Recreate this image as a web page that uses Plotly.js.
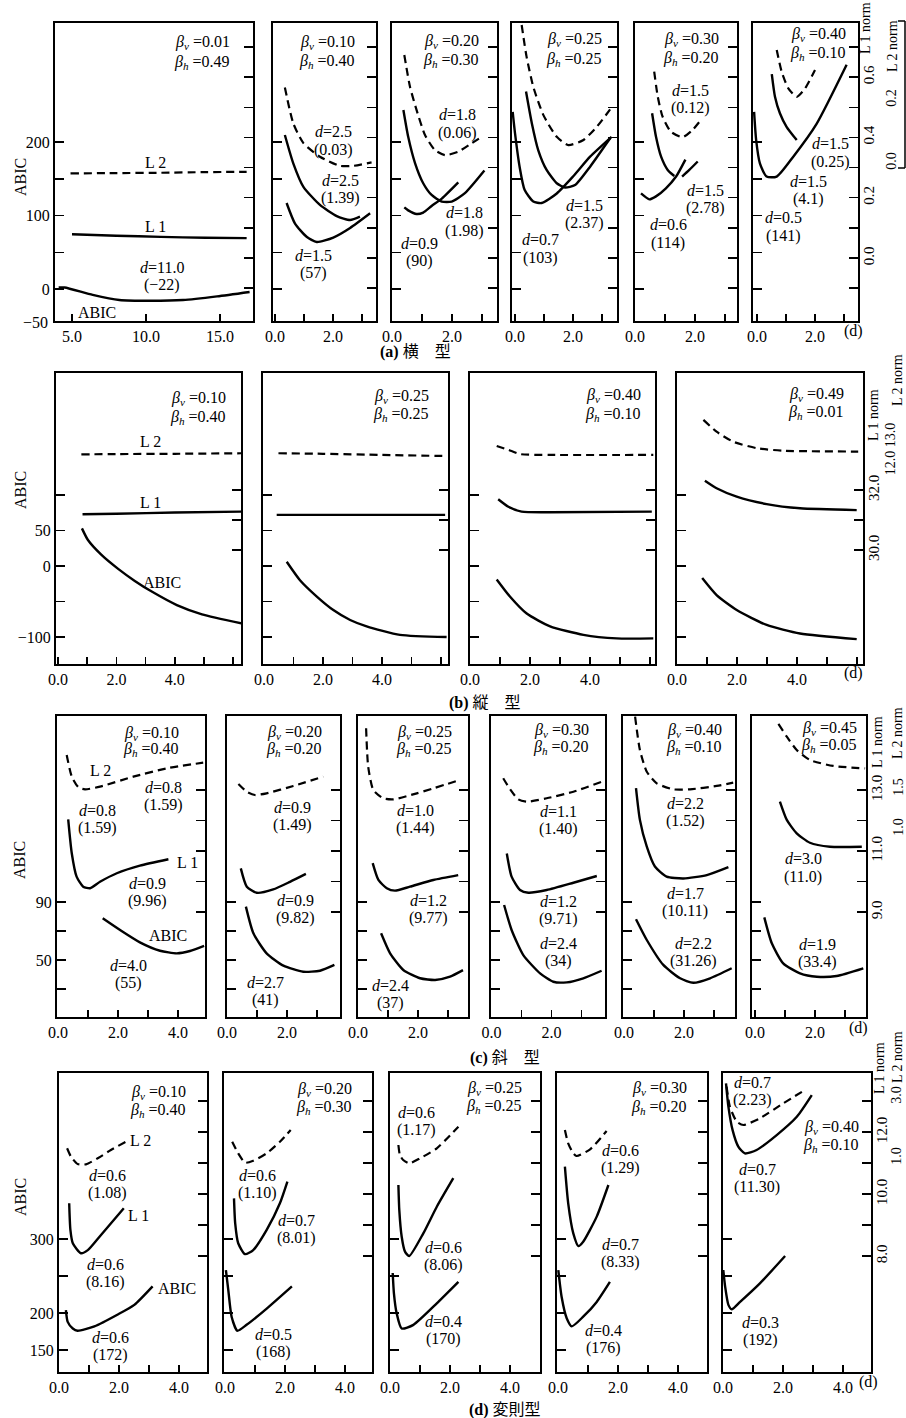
<!DOCTYPE html>
<html><head><meta charset="utf-8">
<script src="https://cdn.plot.ly/plotly-3.0.1.min.js"></script>
<style>html,body{margin:0;padding:0;background:#fff}#chart{width:906px;height:1418px}</style>
</head><body><div id="chart"></div>
<script>
// ===== Row (a) 横型 : d, ABIC / L1 norm / L2 norm =====
const a1_abic_d=[4.1,4.5,6.4,8.2,10.3,12.5,14.8,17.0], a1_abic=[2,2,-8,-15,-16,-15,-10,-4];
const a1_l1_d=[5.0,8,11,14,16.8], a1_l1=[0.079,0.074,0.070,0.067,0.066];
const a1_l2_d=[4.9,8,11,14,16.8], a1_l2=[-0.033,-0.032,-0.031,-0.029,-0.028];
const a2_abic_d=[0.40,0.69,1.09,1.44,2.01,2.59,3.28], a2_abic=[117,89,71,64,70,83,103];
const a2_l1_d=[0.34,0.63,0.98,1.55,2.13,2.59,2.93], a2_l1=[0.408,0.314,0.236,0.176,0.139,0.126,0.137];
const a2_l2_d=[0.34,0.63,0.98,1.55,2.24,2.7,3.33], a2_l2=[0.240,0.126,0.063,0.020,-0.009,-0.009,0.002];
const a3_abic_d=[0.41,0.54,0.82,1.04,1.32,1.66,2.21], a3_abic=[111,107,102,104,113,123,145];
const a3_l1_d=[0.38,0.54,0.77,1.04,1.32,1.66,1.99,2.43,3.08], a3_l1=[0.491,0.402,0.314,0.248,0.209,0.187,0.187,0.215,0.290];
const a3_l2_d=[0.41,0.6,0.82,1.1,1.43,1.77,2.21,2.66,3.04], a3_l2=[0.343,0.242,0.168,0.089,0.041,0.025,0.036,0.063,0.086];
const a4_abic_d=[-0.08,0.0,0.16,0.33,0.63,0.92,1.44,2.0,2.59,3.33], a4_abic=[241,212,166,135,119,117,130,153,180,207];
const a4_l1_d=[0.38,0.58,0.8,1.09,1.44,1.72,2.07,2.59,3.28], a4_l1=[0.552,0.447,0.358,0.292,0.248,0.234,0.242,0.303,0.397];
const a4_l2_d=[0.23,0.4,0.63,0.98,1.44,1.84,2.36,2.82,3.28], a4_l2=[0.438,0.337,0.242,0.152,0.083,0.057,0.073,0.115,0.170];
const a5_abic_d=[0.2,0.48,0.7,1.03,1.37,1.68], a5_abic=[130,122,126,137,153,176];
const a5_l1_d=[0.57,0.7,0.87,1.09,1.31,1.45,1.57,1.81,2.09], a5_l1=[0.480,0.402,0.336,0.292,0.272,null,0.270,0.292,0.320];
const a5_l2_d=[0.64,0.76,0.92,1.2,1.59,1.92,2.2], a5_l2=[0.290,0.210,0.147,0.099,0.082,0.105,0.137];
const a6_abic_d=[-0.1,-0.03,0.1,0.33,0.68,1.25,2.06,3.09], a6_abic=[241,203,171,153,153,180,225,305];
const a6_l1_d=[0.51,0.62,0.79,1.02,1.37], a6_l1=[0.610,0.535,0.480,0.435,0.391];
const a6_l2_d=[0.68,0.85,1.08,1.37,1.66,2.0], a6_l2=[0.359,0.290,0.237,0.210,0.237,0.295];

// ===== Row (b) 縦型 =====
const b1_abic_d=[0.82,1.02,1.48,2.06,2.63,3.21,4.07,4.93,6.31], b1_abic=[53,37,16,-4,-21,-36,-55,-68,-81];
const b1_l1_d=[0.84,2.0,4.0,6.3], b1_l1=[31.19,31.21,31.25,31.28];
const b1_l2_d=[0.8,2.0,4.0,6.3], b1_l2=[12.38,12.39,12.40,12.42];
const b2_abic_d=[0.77,1.22,1.79,2.35,2.92,3.48,4.61,6.19], b2_abic=[6,-20,-43,-62,-76,-85,-97,-100];
const b2_l1_d=[0.43,2.0,4.0,6.14], b2_l1=[31.17,31.17,31.17,31.17];
const b2_l2_d=[0.49,2.0,4.0,6.19], b2_l2=[12.42,12.40,12.36,12.32];
const b3_abic_d=[0.89,1.33,1.89,2.67,3.78,4.89,6.11], b3_abic=[-19,-43,-67,-85,-97,-102,-102];
const b3_l1_d=[0.94,1.28,1.72,2.67,6.06], b3_l1=[31.69,31.44,31.28,31.26,31.28];
const b3_l2_d=[0.89,1.28,1.67,2.67,6.11], b3_l2=[12.68,12.54,12.39,12.36,12.36];
const b4_abic_d=[0.84,1.32,1.99,2.99,4.1,5.99], b4_abic=[-17,-41,-62,-83,-95,-103];
const b4_l1_d=[0.93,1.32,1.99,2.99,4.1,5.99], b4_l1=[32.31,32.06,31.78,31.53,31.39,31.33];
const b4_l2_d=[0.88,1.32,1.88,2.66,3.54,6.04], b4_l2=[13.61,13.19,12.83,12.60,12.51,12.48];

// ===== Row (c) 斜型 =====
const c1_abic_d=[1.49,2.07,2.73,3.4,3.96,4.4,4.87], c1_abic=[78.8,70.7,62.2,56.4,54.6,56.2,59.7];
const c1_l1_d=[0.34,0.46,0.62,0.84,1.07,1.4,1.96,2.73,3.68], c1_l1=[12.04,10.92,10.16,9.83,9.78,9.99,10.27,10.52,10.73];
const c1_l2_d=[0.29,0.46,0.68,0.9,1.4,2.51,3.62,4.84], c1_l2=[1.925,1.654,1.521,1.496,1.529,1.654,1.758,1.829];
const c2_abic_d=[0.63,0.88,1.32,1.88,2.54,3.1,3.58], c2_abic=[86.8,68.4,54.6,46.1,41.9,42.6,46.6];
const c2_l1_d=[0.46,0.66,0.99,1.54,2.1,2.63], c2_l1=[10.43,9.83,9.63,9.74,9.99,10.25];
const c2_l2_d=[0.38,0.66,0.93,1.32,2.21,3.21], c2_l2=[1.563,1.466,1.425,1.446,1.538,1.654];
const c3_abic_d=[0.77,1.07,1.51,2.07,2.57,3.07,3.5], c3_abic=[68.4,54.6,43.1,37.4,36.2,38.5,43];
const c3_l1_d=[0.49,0.68,0.96,1.23,1.73,2.51,3.34], c3_l1=[10.6,10.05,9.78,9.7,9.83,10.05,10.21];
const c3_l2_d=[0.27,0.34,0.51,0.84,1.18,1.96,3.4], c3_l2=[2.259,1.779,1.488,1.384,1.371,1.446,1.613];
const c4_abic_d=[0.42,0.67,1.06,1.62,2.06,2.51,3.06,3.67], c4_abic=[87.9,70.7,53.4,40.8,35,34.6,37.4,42.6];
const c4_l1_d=[0.51,0.67,0.95,1.23,1.84,2.73,3.51], c4_l1=[10.92,10.16,9.72,9.63,9.72,9.96,10.18];
const c4_l2_d=[0.39,0.62,0.89,1.17,1.84,2.73,3.67], c4_l2=[1.634,1.496,1.371,1.341,1.384,1.466,1.591];
const c5_abic_d=[0.4,0.76,1.31,1.87,2.31,2.87,3.59], c5_abic=[78.1,63.8,46.6,37.4,34.3,37.4,44.3];
const c5_l1_d=[0.4,0.53,0.76,1.03,1.42,1.98,2.76,3.48], c5_l1=[13.06,12.02,11.14,10.49,10.16,10.1,10.21,10.47];
const c5_l2_d=[0.37,0.53,0.76,1.09,1.64,2.2,3.09,3.64], c5_l2=[2.404,1.988,1.716,1.571,1.496,1.496,1.538,1.579];
const c6_abic_d=[0.31,0.56,0.94,1.5,2.06,2.72,3.61], c6_abic=[79.4,61.5,47.7,40.8,38.5,39,44.3];
const c6_l1_d=[0.83,1.06,1.39,1.83,2.5,3.56], c6_l1=[12.62,12.02,11.58,11.27,11.14,11.14];
const c6_l2_d=[0.78,1.06,1.39,1.83,2.61,3.67], c6_l2=[2.313,2.154,1.988,1.863,1.788,1.758];

// ===== Row (d) 変則型 =====
const d1_abic_d=[0.23,0.29,0.46,0.62,1.18,1.96,2.51,3.12], d1_abic=[204,188,179,176,182,198,211,236];
const d1_l1_d=[0.34,0.38,0.46,0.73,0.96,1.4,2.16], d1_l1=[9.7,8.84,8.41,8.09,8.19,8.68,9.54];
const d1_l2_d=[0.27,0.4,0.62,0.9,1.29,1.73,2.23], d1_l2=[1.318,1.043,0.803,0.793,0.99,1.262,1.534];
const d2_abic_d=[0.03,0.11,0.22,0.41,0.72,1.39,2.23], d2_abic=[258,231,195,176,184,206,236];
const d2_l1_d=[0.30,0.34,0.44,0.67,0.94,1.39,1.83,2.08], d2_l1=[9.86,9.05,8.41,8.06,8.19,8.84,9.7,10.4];
const d2_l2_d=[0.24,0.44,0.67,0.94,1.39,1.83,2.19], d2_l2=[1.534,1.154,0.846,0.911,1.154,1.534,1.918];
const d3_abic_d=[0.09,0.13,0.22,0.39,0.78,1.56,2.28], d3_abic=[254,227,200,179,184,213,242];
const d3_l1_d=[0.28,0.31,0.39,0.5,0.64,1.11,1.56,2.11], d3_l1=[10.29,9.48,8.62,8.14,8.0,8.73,9.59,10.51];
const d3_l2_d=[0.28,0.33,0.44,0.64,1.0,1.56,2.28], d3_l2=[1.426,1.098,0.934,0.826,0.99,1.318,2.026];
const d4_abic_d=[0.01,0.12,0.29,0.46,0.84,1.29,1.73], d4_abic=[258,222,193,182,195,215,242];
const d4_l1_d=[0.23,0.34,0.51,0.68,0.84,1.29,1.68], d4_l1=[10.88,9.7,8.73,8.32,8.46,9.27,10.29];
const d4_l2_d=[0.23,0.34,0.51,0.62,1.07,1.62], d4_l2=[1.918,1.482,1.154,1.066,1.285,1.885];
const d5_abic_d=[0.01,0.07,0.18,0.29,0.57,1.23,2.07], d5_abic=[258,236,211,205,215,240,277];
const d5_l1_d=[0.1,0.18,0.32,0.51,0.73,1.12,1.79,2.46,2.96], d5_l1=[13.57,12.82,12.06,11.53,11.31,11.42,11.9,12.49,13.19];
const d5_l2_d=[0.12,0.23,0.46,0.68,1.23,2.01,2.77], d5_l2=[3.338,2.682,2.19,2.082,2.302,2.793,3.252];

// ===== tick values (labelled / unlabelled) =====
const xMaj3=[0,2], xMin3=[1,3];
const xMaj4=[0,2,4], xMin4=[1,3];
const xMaj6=[0,2,4], xMin6=[1,3,5,6];

// ===== layout helpers =====
const W=906, H=1418;
const FONT='"Liberation Serif", "Noto Sans CJK JP", serif';
const fx=x=>x/W, fy=y=>1-y/H;
const yRange=(c,top,bot)=>[c[0]+(c[1]-bot)/c[2], c[0]+(c[1]-top)/c[2]];
const xRange=(c,x0,x1)=>[c[0]+(x0-c[1])/c[2], c[0]+(x1-c[1])/c[2]];
const fmt1=v=>(v<0?'\u2212':'')+Math.abs(v).toFixed(1);
const fmt0=v=>(v<0?'\u2212':'')+Math.abs(v).toFixed(0);

const rows=[
 {top:23,bottom:321, abicCal:[0,289,0.735], l1Cal:[0,258,301.5], l2Cal:[0,163,315],
  abicMaj:[0,100,200], abicMin:[50,150],
  l1Maj:[0,0.2,0.4,0.6], l1Min:[-0.1,0.1,0.3,0.5,0.7],
  l2Maj:[0,0.2], l2Pos:881,
  panels:[
   {x0:55,x1:253,xCal:[5,72,14.8],xMaj:[5,10,15],xMin:[],s:[a1_abic_d,a1_abic,a1_l1_d,a1_l1,a1_l2_d,a1_l2]},
   {x0:273,x1:376,xCal:[0,275,29],xMaj:xMaj3,xMin:xMin3,s:[a2_abic_d,a2_abic,a2_l1_d,a2_l1,a2_l2_d,a2_l2]},
   {x0:392,x1:497,xCal:[0,392,30],xMaj:xMaj3,xMin:xMin3,s:[a3_abic_d,a3_abic,a3_l1_d,a3_l1,a3_l2_d,a3_l2]},
   {x0:512,x1:617,xCal:[0,515,29],xMaj:xMaj3,xMin:xMin3,s:[a4_abic_d,a4_abic,a4_l1_d,a4_l1,a4_l2_d,a4_l2]},
   {x0:635,x1:737,xCal:[0,635,30],xMaj:xMaj3,xMin:xMin3,s:[a5_abic_d,a5_abic,a5_l1_d,a5_l1,a5_l2_d,a5_l2]},
   {x0:753,x1:858,xCal:[0,757,29],xMaj:xMaj3,xMin:xMin3,s:[a6_abic_d,a6_abic,a6_l1_d,a6_l1,a6_l2_d,a6_l2]}]},
 {top:373,bottom:664, abicCal:[0,566,0.71], l1Cal:[32,490,30], l2Cal:[13,437,28],
  abicMaj:[-100,0,50], abicMin:[-50,100],
  l1Maj:[30,32], l1Min:[31],
  l2Maj:[12,13], l2Pos:880,
  panels:[
   {x0:56,x1:241,xCal:[0,58,29.2],xMaj:xMaj6,xMin:xMin6,s:[b1_abic_d,b1_abic,b1_l1_d,b1_l1,b1_l2_d,b1_l2]},
   {x0:263,x1:448,xCal:[0,264,29.5],xMaj:xMaj6,xMin:xMin6,s:[b2_abic_d,b2_abic,b2_l1_d,b2_l1,b2_l2_d,b2_l2]},
   {x0:470,x1:655,xCal:[0,470,30],xMaj:xMaj6,xMin:xMin6,s:[b3_abic_d,b3_abic,b3_l1_d,b3_l1,b3_l2_d,b3_l2]},
   {x0:677,x1:863,xCal:[0,677,30],xMaj:xMaj6,xMin:xMin6,s:[b4_abic_d,b4_abic,b4_l1_d,b4_l1,b4_l2_d,b4_l2]}]},
 {top:716,bottom:1017, abicCal:[90,902,1.45], l1Cal:[9,912,30.5], l2Cal:[1,829,80],
  abicMaj:[50,90], abicMin:[30,70],
  l1Maj:[9,11,13], l1Min:[10,12],
  l2Maj:[1,1.5], l2Pos:888,
  panels:[
   {x0:57,x1:205,xCal:[0,58,30],xMaj:xMaj4,xMin:xMin4,s:[c1_abic_d,c1_abic,c1_l1_d,c1_l1,c1_l2_d,c1_l2]},
   {x0:227,x1:340,xCal:[0,227,30],xMaj:xMaj3,xMin:xMin3,s:[c2_abic_d,c2_abic,c2_l1_d,c2_l1,c2_l2_d,c2_l2]},
   {x0:358,x1:468,xCal:[0,358,30],xMaj:xMaj3,xMin:xMin3,s:[c3_abic_d,c3_abic,c3_l1_d,c3_l1,c3_l2_d,c3_l2]},
   {x0:491,x1:605,xCal:[0,491.5,30],xMaj:xMaj3,xMin:xMin3,s:[c4_abic_d,c4_abic,c4_l1_d,c4_l1,c4_l2_d,c4_l2]},
   {x0:623,x1:735,xCal:[0,624,30],xMaj:xMaj3,xMin:xMin3,s:[c5_abic_d,c5_abic,c5_l1_d,c5_l1,c5_l2_d,c5_l2]},
   {x0:752,x1:866,xCal:[0,755,30],xMaj:xMaj3,xMin:xMin3,s:[c6_abic_d,c6_abic,c6_l1_d,c6_l1,c6_l2_d,c6_l2]}]},
 {top:1073,bottom:1372, abicCal:[200,1313,0.74], l1Cal:[8,1256,31], l2Cal:[1,1158,30.5],
  abicMaj:[150,200,300], abicMin:[250],
  l1Maj:[8,10,12], l1Min:[9,11,13],
  l2Maj:[1,3], l2Pos:886,
  panels:[
   {x0:59,x1:207,xCal:[0,59,30],xMaj:xMaj4,xMin:xMin4,s:[d1_abic_d,d1_abic,d1_l1_d,d1_l1,d1_l2_d,d1_l2]},
   {x0:224,x1:372,xCal:[0,225,30],xMaj:xMaj4,xMin:xMin4,s:[d2_abic_d,d2_abic,d2_l1_d,d2_l1,d2_l2_d,d2_l2]},
   {x0:390,x1:540,xCal:[0,390,30],xMaj:xMaj4,xMin:xMin4,s:[d3_abic_d,d3_abic,d3_l1_d,d3_l1,d3_l2_d,d3_l2]},
   {x0:557,x1:707,xCal:[0,558,30],xMaj:xMaj4,xMin:xMin4,s:[d4_abic_d,d4_abic,d4_l1_d,d4_l1,d4_l2_d,d4_l2]},
   {x0:723,x1:871,xCal:[0,723,30],xMaj:xMaj4,xMin:xMin4,s:[d5_abic_d,d5_abic,d5_l1_d,d5_l1,d5_l2_d,d5_l2]}]}
];

const layout={width:W,height:H,margin:{l:0,r:0,t:0,b:0},paper_bgcolor:'#fff',plot_bgcolor:'rgba(0,0,0,0)',
  showlegend:false,font:{family:FONT,size:16,color:'#000'},annotations:[],shapes:[]};
const traces=[];
const xr=n=>n===1?'x':'x'+n, yr=n=>n===1?'y':'y'+n;
const xk=n=>n===1?'xaxis':'xaxis'+n, yk=n=>n===1?'yaxis':'yaxis'+n;
const tickFont={family:FONT,size:16,color:'#000'};
const minorT=(vals,len)=>({tickmode:'array',tickvals:vals,ticks:'inside',ticklen:len,tickwidth:1.5,tickcolor:'#000',showgrid:false});
const solid={color:'#000',width:2.4,shape:'spline',smoothing:0.6};
const dashed={color:'#000',width:2.2,shape:'spline',smoothing:0.6,dash:'8px,5px'};
let pi=0;
rows.forEach(row=>{
  row.panels.forEach((p,j)=>{
    pi++;
    const first=j===0, last=j===row.panels.length-1;
    const xa=pi, ya=3*pi-2, y1=3*pi-1, y2=3*pi;
    layout[xk(xa)]={domain:[fx(p.x0),fx(p.x1)],range:xRange(p.xCal,p.x0,p.x1),anchor:yr(ya),
      tickmode:'array',tickvals:p.xMaj,ticktext:p.xMaj.map(fmt1),minor:minorT(p.xMin,7),
      ticks:'inside',ticklen:7,tickwidth:1.5,tickcolor:'#000',
      showline:true,mirror:true,linewidth:2,linecolor:'#000',showgrid:false,zeroline:false,tickfont:tickFont};
    layout[yk(ya)]={domain:[fy(row.bottom),fy(row.top)],range:yRange(row.abicCal,row.top,row.bottom),anchor:xr(xa),side:'left',
      tickmode:'array',tickvals:row.abicMaj,ticktext:row.abicMaj.map(fmt0),minor:minorT(row.abicMin,9),
      showticklabels:first,ticks:'inside',ticklen:9,tickwidth:1.5,tickcolor:'#000',
      showline:true,mirror:true,linewidth:2,linecolor:'#000',showgrid:false,zeroline:false,tickfont:tickFont};
    layout[yk(y1)]={overlaying:yr(ya),anchor:xr(xa),side:'right',range:yRange(row.l1Cal,row.top,row.bottom),
      tickmode:'array',tickvals:row.l1Maj,ticktext:row.l1Maj.map(fmt1),minor:minorT(row.l1Min,9),
      showticklabels:last,tickangle:-90,ticks:'inside',ticklen:9,tickwidth:1.5,tickcolor:'#000',
      showline:false,showgrid:false,zeroline:false,tickfont:{family:FONT,size:15,color:'#000'}};
    const l2={overlaying:yr(ya),side:'right',range:yRange(row.l2Cal,row.top,row.bottom),showgrid:false,zeroline:false,showline:false};
    if(last){Object.assign(l2,{anchor:'free',position:fx(row.l2Pos),tickmode:'array',tickvals:row.l2Maj,ticktext:row.l2Maj.map(fmt1),
      ticks:'',tickangle:-90,tickfont:{family:FONT,size:14,color:'#000'}});}
    else{Object.assign(l2,{anchor:xr(xa),visible:false});}
    layout[yk(y2)]=l2;
    const s=p.s;
    traces.push({x:s[4],y:s[5],xaxis:xr(xa),yaxis:yr(y2),mode:'lines',line:dashed,hoverinfo:'skip',name:'L2'});
    traces.push({x:s[2],y:s[3],xaxis:xr(xa),yaxis:yr(y1),mode:'lines',line:solid,hoverinfo:'skip',name:'L1'});
    traces.push({x:s[0],y:s[1],xaxis:xr(xa),yaxis:yr(ya),mode:'lines',line:solid,hoverinfo:'skip',name:'ABIC'});
  });
});

// ===== text =====
const T=(t,x,y,anchor,size,angle)=>layout.annotations.push({text:t,x:fx(x),y:fy(y),xref:'paper',yref:'paper',showarrow:false,
  xanchor:anchor||'center',yanchor:'middle',textangle:angle||0,font:{family:FONT,size:size||16,color:'#000'}});
const B=(v,h,xr_,yv,yh)=>{T('<i>β</i><sub><i>v</i></sub> =' + v,xr_,yv,'right');T('<i>β</i><sub><i>h</i></sub> =' + h,xr_,yh,'right');};
const D=(dv,pv,x,y)=>{T('<i>d</i>='+dv,x,y);T('('+pv+')',x,y+18);};

// row a
B('0.01','0.49',232,43,62); T('L 2',155,162); T('L 1',155,227); D('11.0','\u221222',162,267); T('ABIC',97,312);
T('\u221250',50,323,'right');
B('0.10','0.40',357,43,61); D('2.5','0.03',333,132); D('2.5','1.39',340,180); D('1.5','57',313,255);
B('0.20','0.30',481,42,60); D('1.8','0.06',457,115); D('1.8','1.98',465,213); D('0.9','90',419,243);
B('0.25','0.25',604,40,59); D('1.5','2.37',584,205); D('0.7','103',540,240);
B('0.30','0.20',721,40,58); D('1.5','0.12',690,90); D('1.5','2.78',705,190); D('0.6','114',668,225);
B('0.40','0.10',848,35,53); D('1.5','0.25',830,144); D('1.5','4.1',808,181); D('0.5','141',783,218);
T('(d)',853,331); T('<b>(a)</b> 横　型',415,352);
T('ABIC',20,177,'center',16,-90); T('L 1 norm',866,28,'center',14,-90); T('L 2 norm',893,46,'center',14,-90);
layout.shapes.push({type:'line',xref:'paper',yref:'paper',x0:fx(905),x1:fx(905),y0:fy(21),y1:fy(168),line:{color:'#000',width:1.5}});
layout.shapes.push({type:'line',xref:'paper',yref:'paper',x0:fx(898),x1:fx(905),y0:fy(21),y1:fy(21),line:{color:'#000',width:1.5}});
layout.shapes.push({type:'line',xref:'paper',yref:'paper',x0:fx(898),x1:fx(905),y0:fy(168),y1:fy(168),line:{color:'#000',width:1.5}});

// row b
B('0.10','0.40',228,398,417); T('L 2',150,442); T('L 1',150,502); T('ABIC',162,582);
B('0.25','0.25',431,396,414); B('0.40','0.10',643,395,414); B('0.49','0.01',846,394,412);
T('(d)',853,673); T('<b>(b)</b> 縦　型',485,703);
T('ABIC',20,490,'center',16,-90); T('L 1 norm',873,415,'center',14,-90); T('L 2 norm',897,380,'center',14,-90);

// row c
B('0.10','0.40',181,733,750); T('L 2',100,770); D('0.8','1.59',163,787); D('0.8','1.59',97,810);
T('L 1',187,862); D('0.9','9.96',147,883); T('ABIC',168,935); D('4.0','55',128,965);
B('0.20','0.20',324,732,750); D('0.9','1.49',292,807); D('0.9','9.82',295,900); D('2.7','41',265,982);
B('0.25','0.25',454,732,750); D('1.0','1.44',415,810); D('1.2','9.77',428,900); D('2.4','37',390,985);
B('0.30','0.20',591,730,748); D('1.1','1.40',558,811); D('1.2','9.71',558,901); D('2.4','34',558,943);
B('0.40','0.10',724,730,748); D('2.2','1.52',685,803); D('1.7','10.11',685,893); D('2.2','31.26',693,943);
B('0.45','0.05',859,728,746); D('3.0','11.0',803,859); D('1.9','33.4',817,944);
T('(d)',858,1028); T('<b>(c)</b> 斜　型',505,1058);
T('ABIC',20,860,'center',16,-90); T('L 1 norm',877,742,'center',14,-90); T('L 2 norm',897,733,'center',14,-90);

// row d
B('0.10','0.40',188,1092,1110); T('L 2',140,1140); D('0.6','1.08',107,1175); T('L 1',138,1215);
D('0.6','8.16',105,1264); T('ABIC',177,1288); D('0.6','172',110,1337);
B('0.20','0.30',354,1089,1107); D('0.6','1.10',257,1175); D('0.7','8.01',296,1220); D('0.5','168',273,1334);
B('0.25','0.25',524,1088,1106); D('0.6','1.17',416,1112); D('0.6','8.06',443,1247); D('0.4','170',443,1321);
B('0.30','0.20',689,1088,1107); D('0.6','1.29',620,1150); D('0.7','8.33',620,1244); D('0.4','176',603,1330);
D('0.7','2.23',752,1082); B('0.40','0.10',861,1127,1145); D('0.7','11.30',757,1169); D('0.3','192',760,1322);
T('(d)',868,1382); T('<b>(d)</b> 変則型',505,1410);
T('ABIC',20,1197,'center',16,-90); T('L 1 norm',879,1068,'center',14,-90); T('L 2 norm',897,1057,'center',14,-90);

Plotly.newPlot('chart',traces,layout,{staticPlot:true,displayModeBar:false});
</script></body></html>
